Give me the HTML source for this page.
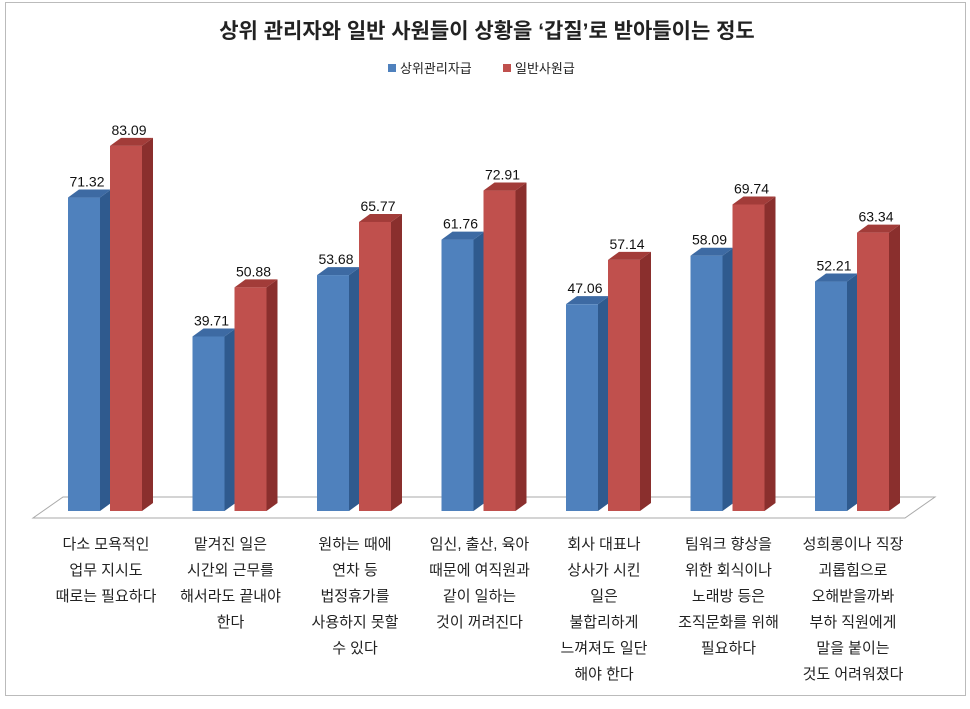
<!DOCTYPE html>
<html><head><meta charset="utf-8"><style>
body{margin:0;background:#fff;width:970px;height:704px;overflow:hidden;font-family:"Liberation Sans","Noto Sans CJK KR",sans-serif}
</style></head><body>
<svg id="c" width="970" height="704" xmlns="http://www.w3.org/2000/svg" font-family="Liberation Sans, Noto Sans CJK KR, sans-serif">
<rect x="5.5" y="2.5" width="960" height="693" fill="#fff" stroke="#bbb"/>
<text x="487" y="38" text-anchor="middle" font-size="21" font-weight="bold" fill="#222">상위 관리자와 일반 사원들이 상황을 ‘갑질’로 받아들이는 정도</text>
<g>
<rect x="388" y="64" width="8" height="8" fill="#4f81bd"/>
<text x="400" y="73" font-size="13" fill="#222">상위관리자급</text>
<rect x="503" y="64" width="8" height="8" fill="#c0504d"/>
<text x="515" y="73" font-size="13" fill="#222">일반사원급</text>
</g>
<polygon points="33,518 905,518 935,497 63,497" fill="#fff" stroke="#aaa"/>
<g id="bars"></g>
<g id="labels"></g>
</svg>
<script>
const categories=[["다소 모욕적인","업무 지시도","때로는 필요하다"],["맡겨진 일은","시간외 근무를","해서라도 끝내야","한다"],["원하는 때에","연차 등","법정휴가를","사용하지 못할","수 있다"],["임신, 출산, 육아","때문에 여직원과","같이 일하는","것이 꺼려진다"],["회사 대표나","상사가 시킨","일은","불합리하게","느껴져도 일단","해야 한다"],["팀워크 향상을","위한 회식이나","노래방 등은","조직문화를 위해","필요하다"],["성희롱이나 직장","괴롭힘으로","오해받을까봐","부하 직원에게","말을 붙이는","것도 어려워졌다"]];
const managerValues=[71.32,39.71,53.68,61.76,47.06,58.09,52.21];
const staffValues=[83.09,50.88,65.77,72.91,57.14,69.74,63.34];
const series=[{name:"manager",vals:managerValues,front:"#4f81bd",side:"#2f5a8e",top:"#3d6aa3"},{name:"staff",vals:staffValues,front:"#c0504d",side:"#8a2f2d",top:"#a23c39"}];
const NS="http://www.w3.org/2000/svg";
const base=511,scale=4.395,x0=68,step=124.5,bw=32,dx=11,dy=8;
function y(v){return base-v*scale;}
function gx(i){return x0+i*step;}
const bars=document.getElementById('bars'),labels=document.getElementById('labels');
function mk(t,a,p){const e=document.createElementNS(NS,t);for(const k in a)e.setAttribute(k,a[k]);p.appendChild(e);return e;}
categories.forEach((cat,i)=>{
 series.forEach((s,j)=>{
  const v=s.vals[i],x=gx(i)+j*42,t=y(v);
  const g=mk('g',{},bars);
  
  
  mk('polygon',{points:`${x+bw},${t} ${x+bw+dx},${t-dy} ${x+bw+dx},${base-dy} ${x+bw},${base}`,fill:s.side},g);
  mk('polygon',{points:`${x},${t} ${x+dx},${t-dy} ${x+bw+dx},${t-dy} ${x+bw},${t}`,fill:s.top},g);
  mk('rect',{x:x,y:t,width:bw,height:base-t,fill:s.front},g);
  const tx=mk('text',{x:x+bw/2+3,y:t-11,'text-anchor':'middle','font-size':'14',fill:'#111'},bars);
  
  
  tx.textContent=v.toFixed(2);
 });
 const tl=mk('text',{'text-anchor':'middle','font-size':'15',fill:'#222'},labels);
 
 
 cat.forEach((line,k)=>{const ts=mk('tspan',{x:gx(i)+38,y:549+k*26},tl);ts.textContent=line;});
});
</script>
</body></html>
